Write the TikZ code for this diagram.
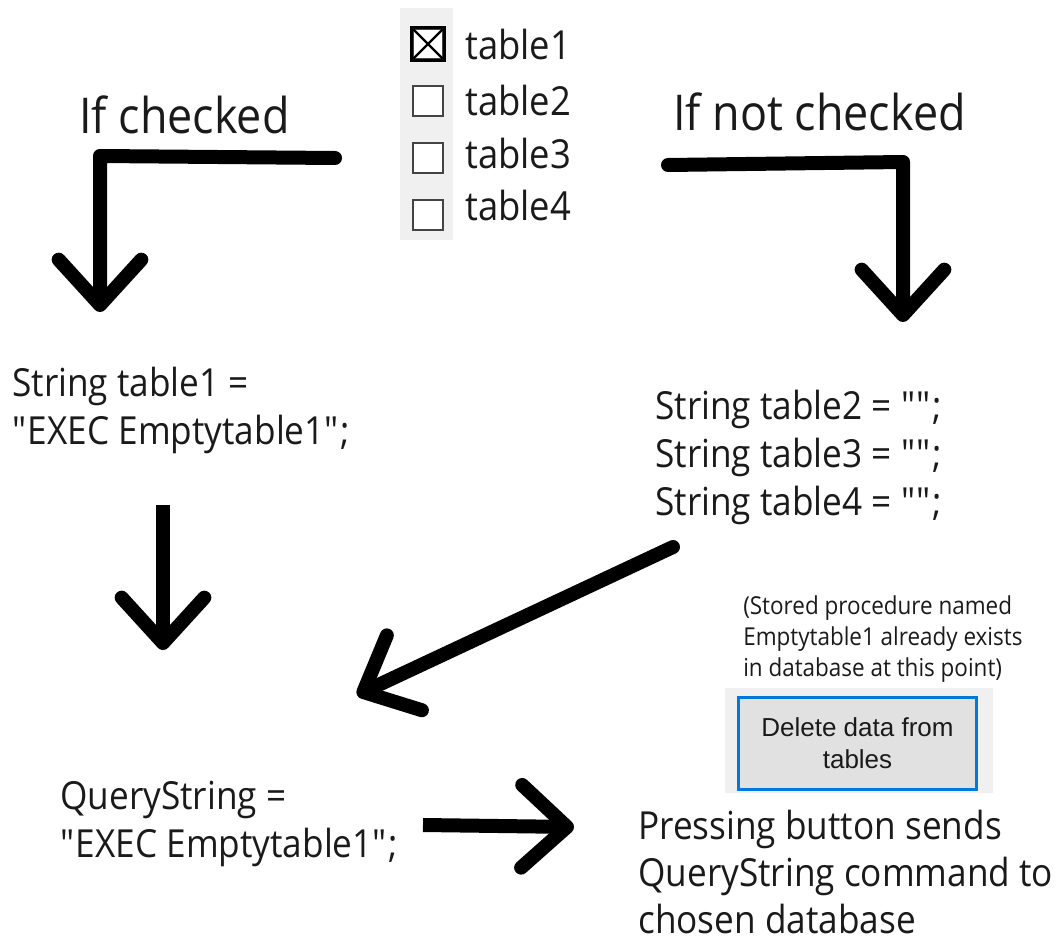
\documentclass[tikz,border=0pt]{standalone}
\usepackage{fontspec}
\setmainfont{Open Sans}[FakeStretch=0.91]
\newfontfamily\btnfont{Liberation Sans}
\usetikzlibrary{arrows.meta}
\definecolor{panelgray}{HTML}{F0F0F0}
\definecolor{btnfill}{HTML}{E1E1E1}
\definecolor{btnblue}{HTML}{0078D7}
\definecolor{boxgray}{HTML}{444444}
\definecolor{ink}{HTML}{1A1A1A}
\newcommand{\qq}{\textquotedbl}
\tikzset{
  bigarrow/.style={line width=10.5pt, line cap=round, line join=round,
    -{Straight Barb[length=34pt, width=62pt, round]}},
  maintext/.style={inner sep=0pt, text=ink, align=left, font=\fontsize{29}{36}\selectfont},
  iftext/.style={inner sep=0pt, text=ink, font=\fontsize{37}{44}\selectfont},
  lbltext/.style={inner sep=0pt, text=ink, font=\fontsize{30}{36}\selectfont},
  notetext/.style={inner sep=0pt, text=ink, align=left, font=\fontsize{18.5}{23.5}\selectfont},
  chk/.style={draw=boxgray, line width=1.6pt, minimum size=23pt, inner sep=0pt, fill=white},
  btnstyle/.style={draw=btnblue, line width=2.4pt, fill=btnfill, minimum width=178pt,
    minimum height=69pt, inner sep=0pt, align=center, text=ink,
    font=\btnfont\fontsize{19.5}{24}\selectfont},
}
\begin{document}
\begin{tikzpicture}[x=0.75pt,y=-0.75pt]
\useasboundingbox (0,0) rectangle (1057,945);
% checkbox panel
\fill[panelgray] (400,8) rectangle (453,240);
\node[chk] (c1) at (428,44) {};
\draw[black, line width=1.8pt] (c1.north west) rectangle (c1.south east);
\draw[black, line width=1.8pt] (c1.north west) -- (c1.south east) (c1.north east) -- (c1.south west);
\node[chk] (c2) at (428,101) {};
\node[chk] (c3) at (428,158) {};
\node[chk] (c4) at (428,215) {};
\node[lbltext, anchor=base west] (t1) at (465,60) {table1};
\node[lbltext, anchor=base west] (t2) at (465,116) {table2};
\node[lbltext, anchor=base west] (t3) at (465,169) {table3};
\node[lbltext, anchor=base west] (t4) at (465,221) {table4};
% headings
\node[iftext, anchor=base west] (ifc) at (79,134) {If checked};
\node[iftext, anchor=base west] (ifn) at (673,131) {If not checked};
% code texts
\node[maintext, anchor=west] (s1) at (12,410) {String table1 =\\\qq EXEC Emptytable1\qq;};
\node[maintext, anchor=west] (s234) at (655,457) {String table2 = \qq\qq;\\String table3 = \qq\qq;\\String table4 = \qq\qq;};
\node[maintext, anchor=west] (qs) at (60,824) {QueryString =\\\qq EXEC Emptytable1\qq;};
\node[maintext, anchor=west, font=\fontsize{29}{35}\selectfont] (press) at (638,872) {Pressing button sends\\QueryString command to\\chosen database};
\node[notetext, anchor=west] (note) at (743,639) {(Stored procedure named\\Emptytable1 already exists\\in database at this point)};
% button
\fill[panelgray] (725,688) rectangle (993,793);
\node[btnstyle] (btn) at (857.5,743.5) {Delete data from\\tables};
% arrow coordinates
\coordinate (a1s) at (335,158);
\coordinate (a1c) at (100,156);
\coordinate (a1e) at (100,312);
\coordinate (a2s) at (668,165);
\coordinate (a2c) at (903,162);
\coordinate (a2e) at (903,322);
\coordinate (a3s) at (163,505);
\coordinate (a3e) at (163,650);
\coordinate (a4s) at (673,547);
\coordinate (a4e) at (357,695);
\coordinate (a5s) at (423,825);
\coordinate (a5e) at (574,827);
\draw[bigarrow] (a1s) -- (a1c) -- (a1e);
\draw[bigarrow] (a2s) -- (a2c) -- (a2e);
\draw[bigarrow, line cap=butt] (a3s) -- (a3e);
\draw[bigarrow] (a4s) -- (a4e);
\draw[bigarrow, line cap=butt] (a5s) -- (a5e);
\end{tikzpicture}
\end{document}
